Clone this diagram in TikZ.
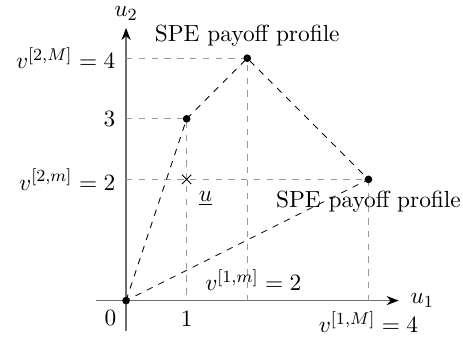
\documentclass[tikz,border=0pt]{standalone}
\usepackage{xcolor}
\definecolor{cAxis}{HTML}{6E6E6E}
\definecolor{cGuide}{HTML}{9A9A9A}
\usepackage{tikz}
\usetikzlibrary{positioning,arrows.meta,shapes.misc}
\tikzset{
  axis-line/.style={-{Stealth[length=2mm,color=black]},thick,draw=cAxis},
  guide-line/.style={dashed,draw=cGuide},
  hull-line/.style={dashed,draw=black},
  pt-dot/.style={circle,fill=black,inner sep=0pt,minimum size=3.6pt},
  pt-cross/.style={cross out,draw=black,inner sep=0pt,minimum size=4pt},
}
\begin{document}
\begin{tikzpicture}[font=\fontsize{10.95}{13.6}\selectfont]
  \useasboundingbox (-2.08,-0.6) rectangle (5.56,4.96);
  % axes
  \coordinate (xs) at (-0.5,0);
  \coordinate (xe) at (4.5,0);
  \coordinate (ys) at (0,-0.5);
  \coordinate (ye) at (0,4.5);
  \draw[axis-line] (xs) -- (xe);
  \draw[axis-line] (ys) -- (ye);
  \node[right=2pt of xe] (u1) {$u_1$};
  \node[above=0pt of ye] (u2) {$u_2$};
  % payoff profiles and their projections
  \coordinate (q0) at (0,0);
  \coordinate (q1) at (1,3);
  \coordinate (q2) at (2,4);
  \coordinate (q3) at (4,2);
  \coordinate (qm) at (1,2);
  \coordinate (x1) at (1,0);
  \coordinate (x2) at (2,0);
  \coordinate (x4) at (4,0);
  \coordinate (y2) at (0,2);
  \coordinate (y3) at (0,3);
  \coordinate (y4) at (0,4);
  \draw[guide-line] (y4) -- (q2) -- (x2);
  \draw[guide-line] (y3) -- (q1) -- (x1);
  \draw[guide-line] (y2) -- (q3) -- (x4);
  \draw[hull-line] (q0) -- (q1) -- (q2) -- (q3) -- cycle;
  \node[pt-dot] (p0) at (q0) {};
  \node[pt-dot] (p1) at (q1) {};
  \node[pt-dot] (p2) at (q2) {};
  \node[pt-dot] (p3) at (q3) {};
  \node[pt-cross] (umin) at (qm) {};
  % labels
  \node[below left=1.5pt of q0] (l0) {$0$};
  \node[below=1.5pt of x1] (l1) {$1$};
  \node[below=1.5pt of x4] (l4) {$v^{[1,M]} = 4$};
  \node[above=1pt of x2,xshift=1mm] (l2) {$v^{[1,m]} = 2$};
  \node[left=1.5pt of y4] (m4) {$v^{[2,M]} = 4$};
  \node[left=1.5pt of y3] (m3) {$3$};
  \node[left=1.5pt of y2] (m2) {$v^{[2,m]} = 2$};
  \node[above=0pt of p2] (spe1) {SPE payoff profile};
  \node[below=0pt of p3] (spe2) {SPE payoff profile};
  \node[below right=0pt of umin] (lu) {$\underline{u}$};
\end{tikzpicture}
\end{document}
